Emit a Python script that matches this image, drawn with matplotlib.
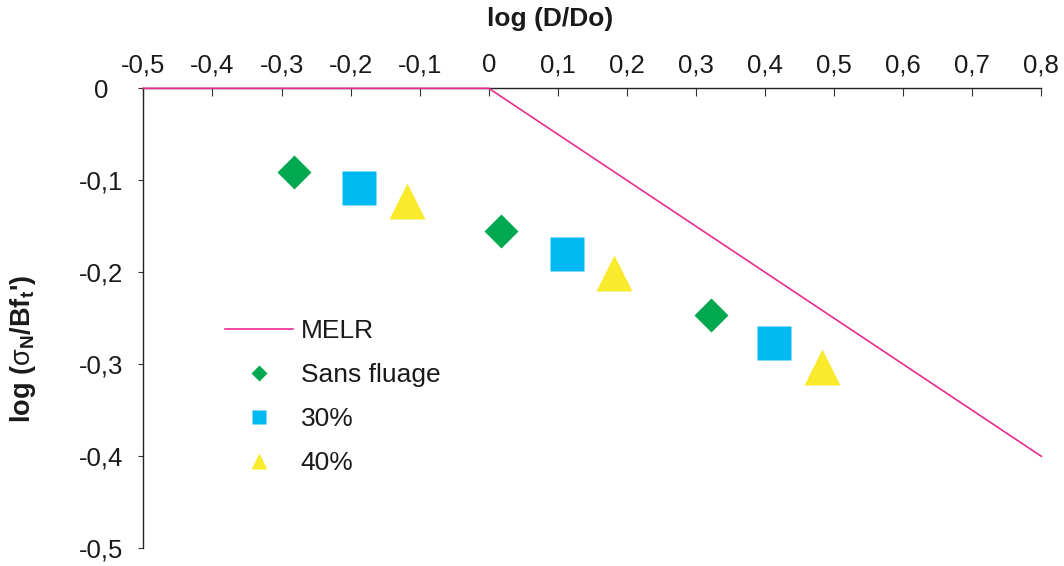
import matplotlib
matplotlib.use("Agg")
import matplotlib.pyplot as plt
from matplotlib.lines import Line2D

plt.rcParams['font.family'] = ['Liberation Sans', 'DejaVu Sans']
plt.rcParams['mathtext.fontset'] = 'custom'
plt.rcParams['mathtext.rm'] = 'Liberation Sans'
plt.rcParams['mathtext.bf'] = 'Liberation Sans:bold'
plt.rcParams['mathtext.it'] = 'Liberation Sans:italic'

# Data
melr_x = [-0.5, 0.0, 0.8]
melr_y = [0.0, 0.0, -0.4]
sans_x = [-0.282, 0.018, 0.322]
sans_y = [-0.091, -0.155, -0.246]
p30_x = [-0.188, 0.113, 0.413]
p30_y = [-0.108, -0.180, -0.277]
p40_x = [-0.118, 0.182, 0.483]
p40_y = [-0.1225, -0.2005, -0.303]
xticks = [-0.5, -0.4, -0.3, -0.2, -0.1, 0, 0.1, 0.2, 0.3, 0.4, 0.5, 0.6, 0.7, 0.8]
yticks = [0, -0.1, -0.2, -0.3, -0.4, -0.5]

c_line = '#EC2A91'
c_green = '#00A84F'
c_cyan = '#00B9F0'
c_yellow = '#F9EA2C'

fig = plt.figure(figsize=(10.64, 5.66), dpi=100)
ax = fig.add_axes([0.1348, 0.03127, 0.8439, 0.8127])

ax.plot(melr_x, melr_y, color=c_line, lw=1.2, clip_on=False, zorder=3)
ax.plot(sans_x, sans_y, ls='none', marker='D', ms=17.8, color=c_green, mec='none', zorder=4)
ax.plot(p30_x, p30_y, ls='none', marker='s', ms=23.8, color=c_cyan, mec='none', zorder=4)
ax.plot(p40_x, p40_y, ls='none', marker='^', ms=25.5, color=c_yellow, mec='none', zorder=4)

ax.set_xlim(-0.5, 0.8)
ax.set_ylim(-0.5, 0)

for s in ['right', 'bottom']:
    ax.spines[s].set_visible(False)
for s in ['left', 'top']:
    ax.spines[s].set_color('#222222')
    ax.spines[s].set_linewidth(1.0)

ax.xaxis.tick_top()
ax.xaxis.set_label_position('top')
ax.set_xticks(xticks)
ax.set_xticklabels([('%g' % v).replace('.', ',') for v in xticks])
ax.set_yticks(yticks)
ax.set_yticklabels([('%g' % v).replace('.', ',') for v in yticks])

ax.tick_params(axis='x', direction='in', length=5.5, width=0.8, color='#333333',
               pad=8, labelsize=18.5, labelcolor='#1a1a1a')
ax.tick_params(axis='y', direction='out', length=3.6, width=0.8, color='#333333',
               pad=26.9, labelsize=18.5, labelcolor='#1a1a1a')
for lbl in ax.get_yticklabels():
    lbl.set_ha('center')

ax.set_xlabel('log (D/Do)', fontsize=19, fontweight='bold', color='#1a1a1a')
ax.xaxis.set_label_coords(0.453, 1.151)
ax.xaxis.label.set_va('center')

ax.set_ylabel(r"log ($\mathrm{\sigma}_\mathbf{N}$/Bf$_\mathbf{t}$')", fontsize=19.5,
              fontweight='bold', color='#1a1a1a')
ax.yaxis.set_label_coords(-0.134, 0.433)
ax.yaxis.label.set_va('center')

handles = [
    Line2D([], [], color=c_line, lw=1.2),
    Line2D([], [], ls='none', marker='D', ms=8, color=c_green, mec='none'),
    Line2D([], [], ls='none', marker='s', ms=9.4, color=c_cyan, mec='none'),
    Line2D([], [], ls='none', marker='^', ms=11.5, color=c_yellow, mec='none'),
]
labels = ['MELR', 'Sans fluage', '30%', '40%']
leg = ax.legend(handles, labels, loc='upper left', bbox_to_anchor=(0.0909, 0.4985),
                frameon=False, fontsize=19, handlelength=2.58, handletextpad=0.29,
                labelspacing=0.76, borderpad=0, borderaxespad=0)
for t in leg.get_texts():
    t.set_color('#1a1a1a')

fig.savefig('out.png', dpi=100)
